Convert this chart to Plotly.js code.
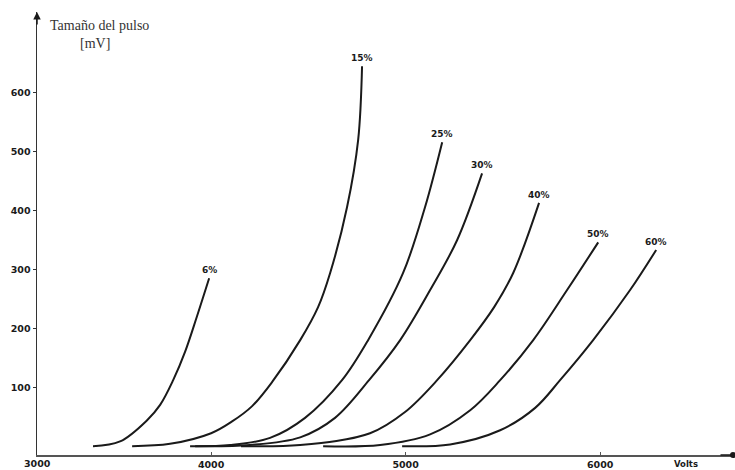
<!DOCTYPE html>
<html>
<head>
<meta charset="utf-8">
<script src="https://cdn.plot.ly/plotly-3.0.1.min.js"></script>
<style>html,body{margin:0;padding:0;background:#fff;}#chart{width:735px;height:470px;}</style>
</head>
<body>
<div id="chart"></div>
<script>
// Curve labels (gas concentration)
const seriesNames = ['6%', '15%', '25%', '30%', '40%', '50%', '60%'];

// Voltage (V) and pulse size (mV)
const volts6  = [3393, 3532, 3671, 3738, 3805, 3866, 3928, 3990];
const mv6     = [0, 8, 44, 70, 112, 160, 221, 285];

const volts15 = [3594, 3789, 4000, 4108, 4211, 4314, 4458, 4550, 4612, 4699, 4756, 4776];
const mv15    = [0, 4, 22, 42, 68, 109, 180, 236, 294, 406, 520, 645];

const volts25 = [3892, 4098, 4303, 4483, 4673, 4807, 4987, 5100, 5188];
const mv25    = [0, 2, 14, 48, 112, 180, 294, 406, 516];

const volts30 = [3918, 4200, 4458, 4637, 4812, 4972, 5126, 5265, 5393];
const mv30    = [0, 2, 15, 48, 112, 180, 265, 350, 463];

const volts40 = [4154, 4458, 4817, 4997, 5162, 5332, 5455, 5553, 5686];
const mv40    = [0, 2, 22, 58, 112, 180, 236, 294, 413];

const volts50 = [4576, 4869, 5126, 5332, 5486, 5656, 5830, 5990];
const mv50    = [0, 2, 20, 61, 112, 180, 265, 346];

const volts60 = [4982, 5229, 5486, 5666, 5794, 5964, 6154, 6288];
const mv60    = [0, 3, 27, 65, 112, 180, 265, 333];

// Axis tick labels
const xTickVals = [4000, 5000, 6000];
const xTickText = ['4000', '5000', '6000'];
const xOriginLabel = '3000';
const yTickVals = [100, 200, 300, 400, 500, 600];
const yTickText = ['100', '200', '300', '400', '500', '600'];

const yTitleLine1 = 'Tamaño del pulso';
const yTitleLine2 = '[mV]';
const xTitle = 'Volts';

const allX = [volts6, volts15, volts25, volts30, volts40, volts50, volts60];
const allY = [mv6, mv15, mv25, mv30, mv40, mv50, mv60];

const traces = allX.map((xs, i) => ({
  type: 'scatter',
  mode: 'lines',
  x: xs,
  y: allY[i],
  name: seriesNames[i],
  line: {color: '#1a1a1a', width: 2, shape: 'spline', smoothing: 1},
  hoverinfo: 'skip',
  showlegend: false
}));

const labelFont = {family: 'DejaVu Sans', size: 9, color: '#1a1a1a', weight: 'bold'};

const annotations = allX.map((xs, i) => ({
  x: xs[xs.length - 1],
  y: allY[i][allY[i].length - 1],
  xref: 'x', yref: 'y',
  text: seriesNames[i],
  showarrow: false,
  xanchor: 'center', yanchor: 'bottom',
  yshift: 1,
  font: labelFont
}));

annotations.push(
  {xref: 'paper', yref: 'paper', x: 0, y: 0, text: xOriginLabel, showarrow: false,
   xanchor: 'center', yanchor: 'top', yshift: -1,
   font: {family: 'DejaVu Sans', size: 9.5, color: '#1a1a1a', weight: 'bold'}},
  {xref: 'paper', yref: 'paper', x: 0.912, y: 0, text: xTitle, showarrow: false,
   xanchor: 'left', yanchor: 'top', yshift: -2,
   font: {family: 'DejaVu Sans', size: 8.5, color: '#1a1a1a', weight: 'bold'}},
  {xref: 'paper', yref: 'paper', x: 0.0158, y: 1, text: yTitleLine1, showarrow: false,
   xanchor: 'left', yanchor: 'middle', yshift: -13,
   font: {family: 'Liberation Serif', size: 14, color: '#333'}},
  {xref: 'paper', yref: 'paper', x: 0.059, y: 1, text: yTitleLine2, showarrow: false,
   xanchor: 'left', yanchor: 'middle', yshift: -31,
   font: {family: 'Liberation Serif', size: 14, color: '#333'}},
  // axis arrowheads
  {xref: 'paper', yref: 'paper', x: 0, y: 1, ax: 0, ay: 14, text: '', showarrow: true,
   arrowhead: 2, arrowsize: 1, arrowwidth: 1.5, arrowcolor: '#1a1a1a'},
  {xref: 'paper', yref: 'paper', x: 1, y: 0, ax: -14, ay: 0, text: '', showarrow: true,
   arrowhead: 6, arrowsize: 1, arrowwidth: 1.5, arrowcolor: '#1a1a1a'}
);

const layout = {
  width: 735, height: 470,
  margin: {l: 37, r: 2, t: 12, b: 15, pad: 0},
  paper_bgcolor: '#ffffff', plot_bgcolor: '#ffffff',
  showlegend: false,
  xaxis: {
    range: [3105, 6683],
    showgrid: false, zeroline: false,
    showline: true, linecolor: '#555', linewidth: 1.5,
    tickmode: 'array', tickvals: xTickVals, ticktext: xTickText,
    ticks: 'inside', ticklen: 3, tickcolor: '#555',
    tickfont: {family: 'DejaVu Sans', size: 9.5, color: '#1a1a1a', weight: 'bold'},
    fixedrange: true
  },
  yaxis: {
    range: [-15, 737],
    showgrid: false, zeroline: false,
    showline: true, linecolor: '#333', linewidth: 1.5,
    tickmode: 'array', tickvals: yTickVals, ticktext: yTickText,
    ticks: 'outside', ticklen: 3, tickcolor: '#333',
    tickfont: {family: 'DejaVu Sans', size: 9.5, color: '#1a1a1a', weight: 'bold'},
    fixedrange: true
  },
  annotations: annotations
};

Plotly.newPlot('chart', traces, layout, {displayModeBar: false, staticPlot: true});
</script>
</body>
</html>
